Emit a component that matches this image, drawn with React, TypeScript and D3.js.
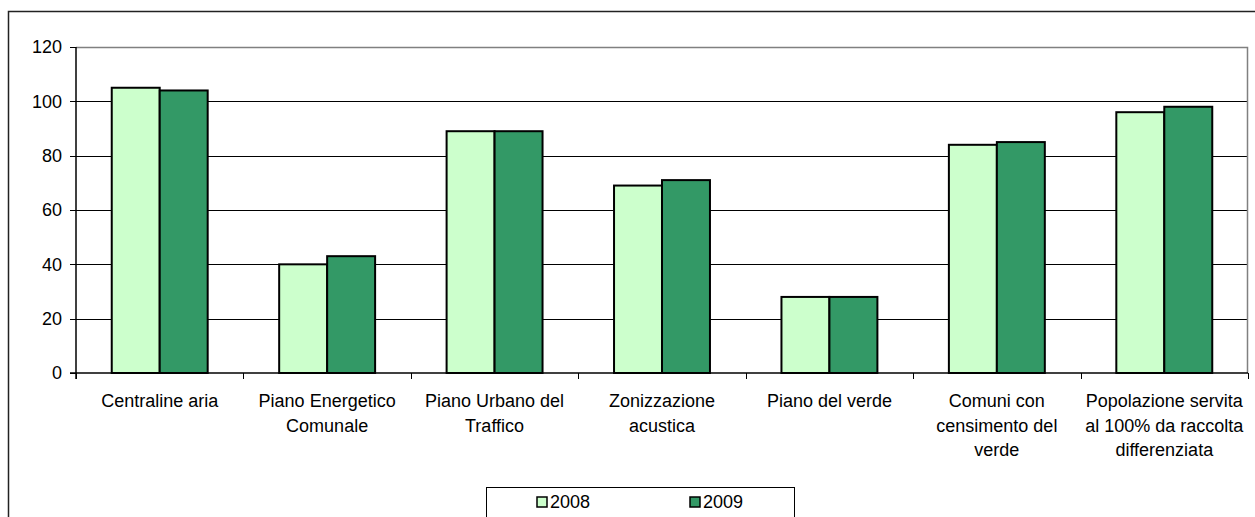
import * as d3 from 'd3';

// ── Data ──────────────────────────────────────────────────────────────────────
const CATEGORIES = [
  ['Centraline aria'],
  ['Piano Energetico', 'Comunale'],
  ['Piano Urbano del', 'Traffico'],
  ['Zonizzazione', 'acustica'],
  ['Piano del verde'],
  ['Comuni con', 'censimento del', 'verde'],
  ['Popolazione servita', 'al 100% da raccolta', 'differenziata'],
];
const SERIES = ['2008', '2009'];
const V2008 = [105, 40, 89, 69, 28, 84, 96];
const V2009 = [104, 43, 89, 71, 28, 85, 98];
const Y_TICKS = [0, 20, 40, 60, 80, 100, 120];

// ── Layout ────────────────────────────────────────────────────────────────────
const VW = 1255;
const VH = 517;
const PL = 76, PR = 1248, PT = 47, PB = 373;

const COLORS = ['#CCFFCC', '#339966'];
const FONT = "'Liberation Sans', Arial, sans-serif";
const FS = 18;

export default function App() {
  const idx = CATEGORIES.map((_, i) => i);
  const x = d3.scaleBand<number>().domain(idx).range([PL, PR])
    .paddingInner(0.427).paddingOuter(0.2135);
  const xs = d3.scaleBand<string>().domain(SERIES).range([0, x.bandwidth()]);
  const y = d3.scaleLinear().domain([0, 120]).range([PB, PT]);
  const step = x.step();
  const values = [V2008, V2009];

  return (
    <svg
      width={VW} height={VH}
      style={{ position: 'absolute', left: 0, top: 0, background: '#fff' }}
      fontFamily={FONT}
    >
      {/* outer frame */}
      <path d={`M8.5,${VH} V11.5 H${VW}`} fill="none" stroke="#222" strokeWidth={1.5} />

      {/* gridlines */}
      {Y_TICKS.filter(t => t > 0 && t < 120).map(t => (
        <line key={t} x1={PL} x2={PR} y1={Math.round(y(t)) + 0.5} y2={Math.round(y(t)) + 0.5}
          stroke="#000" strokeWidth={1} />
      ))}
      {/* plot area frame */}
      <path d={`M${PL},${PT + 0.5} H${PR - 0.5} V${PB}`} fill="none" stroke="#808080" strokeWidth={1.5} />

      {/* bars */}
      {idx.map(i => (
        <g key={i}>
          {SERIES.map((s, j) => {
            const x0 = (x(i) ?? 0) + (xs(s) ?? 0);
            return (
              <rect key={s} x={x0} y={y(values[j][i])} width={xs.bandwidth()}
                height={PB - y(values[j][i])} fill={COLORS[j]} stroke="#000" strokeWidth={2} />
            );
          })}
        </g>
      ))}

      {/* y axis */}
      <line x1={PL} x2={PL} y1={PT} y2={PB + 6} stroke="#000" strokeWidth={1.5} />
      {Y_TICKS.map(t => (
        <g key={t}>
          <line x1={PL - 6} x2={PL} y1={Math.round(y(t)) + 0.5} y2={Math.round(y(t)) + 0.5} stroke="#000" />
          <text x={PL - 14} y={y(t)} dy="0.35em" textAnchor="end" fontSize={FS} fill="#000">{t}</text>
        </g>
      ))}

      {/* x axis */}
      <line x1={PL - 6} x2={PR} y1={PB} y2={PB} stroke="#000" strokeWidth={1.5} />
      {d3.range(CATEGORIES.length + 1).map(k => {
        const xx = Math.round(PL + k * step) + 0.5;
        return <line key={k} x1={xx} x2={xx} y1={PB} y2={PB + 6} stroke="#000" />;
      })}
      {CATEGORIES.map((lines, i) => (
        <text key={i} x={(x(i) ?? 0) + x.bandwidth() / 2} y={407} textAnchor="middle" fontSize={FS} fill="#000">
          {lines.map((l, k) => (
            <tspan key={k} x={(x(i) ?? 0) + x.bandwidth() / 2} dy={k === 0 ? 0 : 24.5}>{l}</tspan>
          ))}
        </text>
      ))}

      {/* legend */}
      <rect x={486.5} y={487.5} width={308} height={40} fill="#fff" stroke="#000" strokeWidth={1} />
      {SERIES.map((s, j) => (
        <g key={s} transform={`translate(${537 + j * 153}, 497)`}>
          <rect x={0} y={0} width={10} height={10} fill={COLORS[j]} stroke="#000" strokeWidth={1.5} />
          <text x={13} y={11} fontSize={FS} fill="#000">{s}</text>
        </g>
      ))}
    </svg>
  );
}
